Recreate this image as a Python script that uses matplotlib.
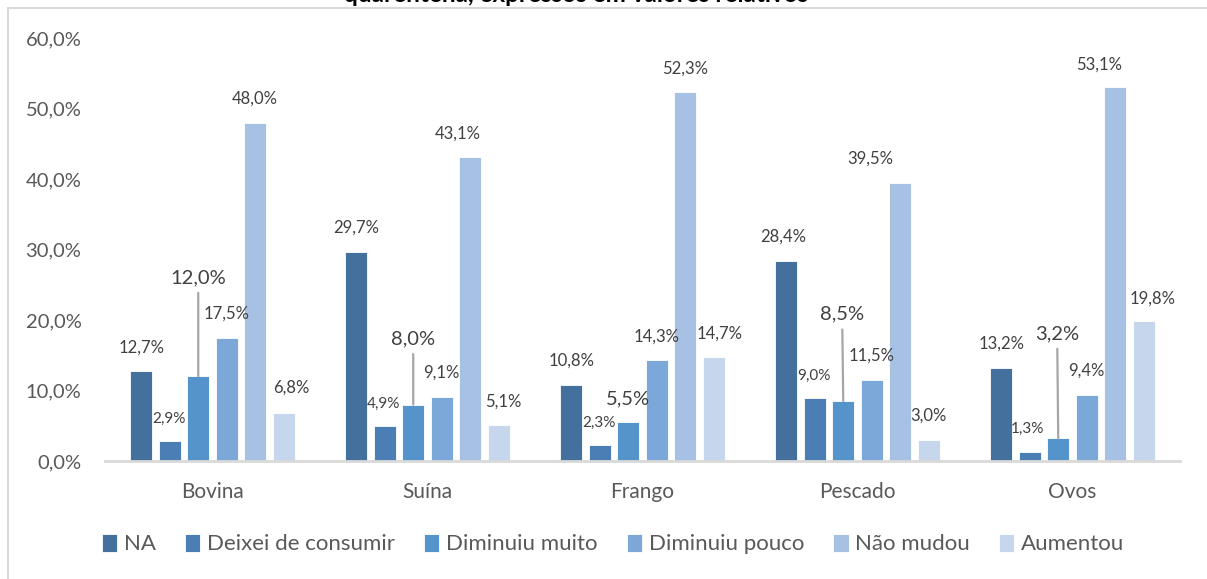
import matplotlib
matplotlib.use("Agg")
import matplotlib.pyplot as plt
from matplotlib.patches import Rectangle
import numpy as np

plt.rcParams["font.family"] = ["Lato", "DejaVu Sans"]

# ---------------- dados ----------------
categorias = ["Bovina", "Suína", "Frango", "Pescado", "Ovos"]
series = ["NA", "Deixei de consumir", "Diminuiu muito", "Diminuiu pouco",
          "Não mudou", "Aumentou"]
na = [12.7, 29.7, 10.8, 28.4, 13.2]
deixei = [2.9, 4.9, 2.3, 9.0, 1.3]
dim_muito = [12.0, 8.0, 5.5, 8.5, 3.2]
dim_pouco = [17.5, 9.1, 14.3, 11.5, 9.4]
nao_mudou = [48.0, 43.1, 52.3, 39.5, 53.1]
aumentou = [6.8, 5.1, 14.7, 3.0, 19.8]
yticks = [0, 10, 20, 30, 40, 50, 60]
titulo = "quarentena, expressos em valores relativos"

valores = [na, deixei, dim_muito, dim_pouco, nao_mudou, aumentou]
cores = ["#43709D", "#4A7EB5", "#5593CB", "#7CA8D9", "#A6C1E4", "#C6D6EC"]

# ajustes manuais de rótulos (pixels): (serie, categoria) -> (dx, dy, tamanho, linha)
ajuste = {
    (0, 0): (0, 24, 12, False), (1, 0): (-1, 22, 11, False),
    (2, 0): (0, 99, 14.5, True), (5, 0): (8, 25, 12, False),
    (1, 1): (-1, 23, 11, False), (2, 1): (0, 66, 14.5, True),
    (4, 1): (-12, 24, 12, False), (5, 1): (5, 23, 12, False),
    (1, 2): (-1, 22, 11, False), (2, 2): (0, 23, 14.5, False),
    (5, 2): (6, 24, 12, False),
    (0, 3): (-3, 24, 12, False), (1, 3): (-1, 22, 11, False),
    (2, 3): (-1, 87, 14.5, True), (4, 3): (-30, 24, 12, False),
    (1, 4): (-2, 23, 11, False), (2, 4): (-1, 105, 14.5, True),
    (4, 4): (-16, 22, 12, False), (5, 4): (9, 23, 12, False),
}

fig = plt.figure(figsize=(12.07, 5.79), dpi=100)
ax = fig.add_axes([105 / 1207, 1 - 461 / 579, 1075 / 1207, 423 / 579])

x = np.arange(len(categorias))
passo = 0.1326
largura = 0.104
for i, (nome, vals, cor) in enumerate(zip(series, valores, cores)):
    pos = x + (i - 2.5) * passo
    ax.bar(pos, vals, largura, color=cor, edgecolor="white", linewidth=0.6,
           label=nome, zorder=2)
    for j, v in enumerate(vals):
        dx, dy, fs, linha = ajuste.get((i, j), (0, 24, 12, False))
        txt = f"{v:.1f}%".replace(".", ",")
        if linha:
            ax.annotate(txt, xy=(pos[j], v), xytext=(dx, dy),
                        textcoords="offset pixels", ha="center", va="center",
                        fontsize=fs, color="#404040",
                        arrowprops=dict(arrowstyle="-", color="#A6A6A6", lw=1.6,
                                        shrinkA=3, shrinkB=0, relpos=(0.5, 0)))
        else:
            ax.annotate(txt, xy=(pos[j], v), xytext=(dx, dy),
                        textcoords="offset pixels", ha="center", va="center",
                        fontsize=fs, color="#404040")

ax.set_xlim(-0.5, len(categorias) - 0.5)
ax.set_ylim(0, 60)
ax.set_yticks(yticks)
ax.set_yticklabels([f"{t:.1f}%".replace(".", ",") for t in yticks])
ax.set_xticks(x)
ax.set_xticklabels(categorias)
ax.tick_params(axis="y", length=0, labelsize=14.5, labelcolor="#595959", pad=17)
ax.tick_params(axis="x", length=0, labelsize=15, labelcolor="#595959", pad=15)
for s in ["top", "right", "left"]:
    ax.spines[s].set_visible(False)
ax.spines["bottom"].set_color("#D9D9D9")
ax.spines["bottom"].set_linewidth(2)
ax.spines["bottom"].set_zorder(3)

fig.legend(loc="center", bbox_to_anchor=(613 / 1207, 1 - 544 / 579), ncol=6,
           frameon=False, fontsize=16, handlelength=0.7, handleheight=0.9,
           handletextpad=0.3, columnspacing=1.3, labelcolor="#595959")

# moldura da área do gráfico e título cortado no topo
fig.patches.append(Rectangle((8 / 1207, -0.1), 1.2, 1.1 - 8 / 579,
                             transform=fig.transFigure, fill=False,
                             edgecolor="#D9D9D9", lw=1.5))
fig.text(576 / 1207, 1 - 2.5 / 579, titulo, ha="center", va="baseline",
         fontsize=17.5, fontweight="bold", color="#000000")

fig.savefig("out.png", dpi=100)
